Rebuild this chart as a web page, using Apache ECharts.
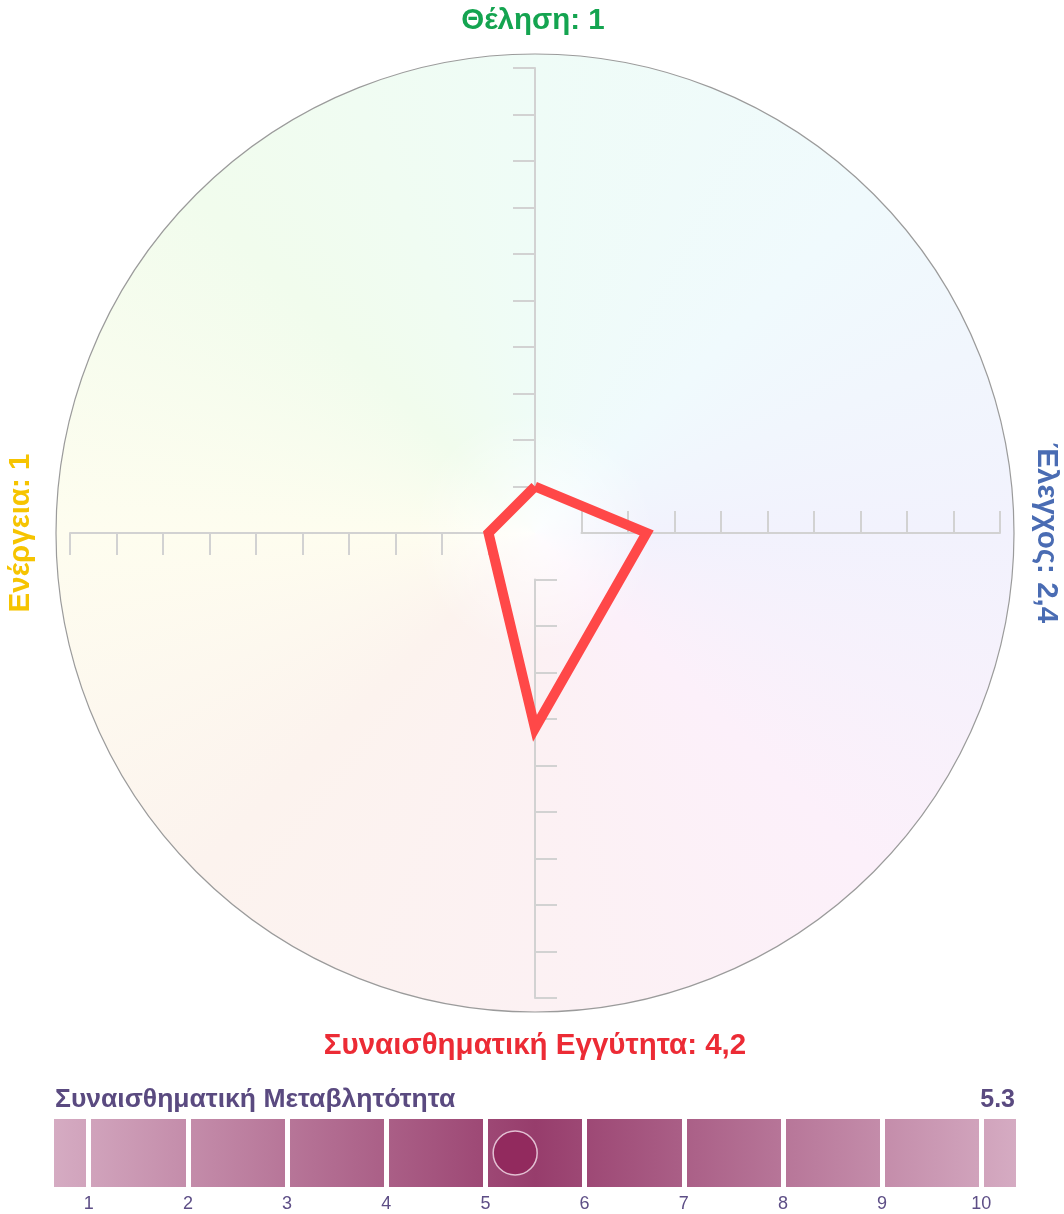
<!DOCTYPE html>
<html>
<head>
<meta charset="utf-8">
<script src="https://cdn.jsdelivr.net/npm/echarts@6/dist/echarts.min.js"></script>
<style>
  html, body { margin: 0; padding: 0; background: #fff; }
  #chart { width: 1064px; height: 1214px; }
</style>
</head>
<body>
<div id="chart"></div>
<script>
// radar axes, counter-clockwise from the top
const axisNames = ['Θέληση', 'Ενέργεια', 'Συναισθηματική Εγγύτητα', 'Έλεγχος']
const axisValues = [1, 1, 4.2, 2.4]
const axisColors = ['#14a450', '#f6c400', '#ec2b35', '#4a6cb3']
const axisMin = 1
const axisMax = 10

// variability bar
const variabilityTitle = 'Συναισθηματική Μεταβλητότητα'
const variabilityValue = 5.3
const variabilityRange = [0.65, 10.35]

const FONT = '"Liberation Sans", Arial, sans-serif'
const cx = 535
const cy = 533
const R = 465
const ringR = 479
const step = R / axisMax

// pastel colour wheel behind the radar
const makeBackground = () => {
  const size = ringR * 2
  const cv = document.createElement('canvas')
  cv.width = size
  cv.height = size
  const ctx = cv.getContext('2d')
  ctx.beginPath()
  ctx.arc(ringR, ringR, ringR, 0, Math.PI * 2)
  ctx.clip()
  if (ctx.createConicGradient) {
    const g = ctx.createConicGradient(-Math.PI / 2, ringR, ringR)
    g.addColorStop(0, '#effcf7')
    g.addColorStop(0.125, '#f0fafd')
    g.addColorStop(0.25, '#f2f2fd')
    g.addColorStop(0.375, '#fcf0fa')
    g.addColorStop(0.5, '#fcf1f3')
    g.addColorStop(0.625, '#fcf3ee')
    g.addColorStop(0.75, '#fefdef')
    g.addColorStop(0.875, '#f1fced')
    g.addColorStop(1, '#effcf7')
    ctx.fillStyle = g
  } else {
    ctx.fillStyle = '#f6f6fb'
  }
  ctx.fillRect(0, 0, size, size)
  const w = ctx.createRadialGradient(ringR, ringR, 0, ringR, ringR, 120)
  w.addColorStop(0, 'rgba(255,255,255,0.85)')
  w.addColorStop(1, 'rgba(255,255,255,0)')
  ctx.fillStyle = w
  ctx.fillRect(0, 0, size, size)
  return cv
}

const fmt = v => String(v).replace('.', ',')
const labelPos = [
  { x: cx - 2, y: 21, rotation: 0 },
  { x: 21, y: cy, rotation: Math.PI / 2 },
  { x: cx, y: 1046, rotation: 0 },
  { x: 1046, y: cy, rotation: -Math.PI / 2 }
]

const axisLabelEls = axisNames.map((name, i) => ({
  type: 'text',
  x: labelPos[i].x,
  y: labelPos[i].y,
  rotation: labelPos[i].rotation,
  style: {
    text: name + ': ' + fmt(axisValues[i]),
    font: 'bold 29.5px ' + FONT,
    fill: axisColors[i],
    align: 'center',
    verticalAlign: 'middle'
  }
}))

const chart = echarts.init(document.getElementById('chart'), null, { renderer: 'canvas' })

const hiddenRadar = {
  axisName: { show: false },
  axisLine: { show: false },
  axisTick: { show: false },
  axisLabel: { show: false },
  splitLine: { show: false },
  splitArea: { show: false }
}

const options = {
  animation: false,
  backgroundColor: '#fff',
  graphic: [
    {
      type: 'image',
      x: cx - ringR,
      y: cy - ringR,
      z: -10,
      style: { image: makeBackground(), width: ringR * 2, height: ringR * 2 }
    },
    {
      type: 'circle',
      z: -9,
      shape: { cx: cx, cy: cy, r: ringR },
      style: { fill: null, stroke: '#9b9b9b', lineWidth: 1.2 }
    },
    ...axisLabelEls,
    {
      type: 'text',
      x: 55,
      y: 1100,
      style: {
        text: variabilityTitle,
        font: 'bold 26.5px ' + FONT,
        fill: '#5a4a80',
        align: 'left',
        verticalAlign: 'middle'
      }
    },
    {
      type: 'text',
      x: 1015,
      y: 1100,
      style: {
        text: String(variabilityValue),
        font: 'bold 25px ' + FONT,
        fill: '#5a4a80',
        align: 'right',
        verticalAlign: 'middle'
      }
    }
  ],
  radar: [
    {
      // axes with ticks from 1 to 10
      z: 2,
      center: [cx, cy],
      radius: [step * axisMin, R],
      startAngle: 90,
      shape: 'circle',
      splitNumber: axisMax - axisMin,
      indicator: axisNames.map(n => ({ name: n, min: axisMin, max: axisMax })),
      axisName: { show: false },
      axisLine: { show: true, lineStyle: { color: '#d2d2d2', width: 2 } },
      axisTick: { show: true, length: 22, lineStyle: { color: '#d2d2d2', width: 2 } },
      axisLabel: { show: false },
      splitLine: { show: false },
      splitArea: { show: false }
    },
    {
      // values, drawn from the centre
      z: 3,
      center: [cx, cy],
      radius: R,
      startAngle: 90,
      shape: 'circle',
      indicator: axisNames.map(n => ({ name: n, min: 0, max: axisMax })),
      ...hiddenRadar
    }
  ],
  grid: { left: 54, right: 48, top: 1119, height: 68 },
  xAxis: {
    type: 'value',
    min: variabilityRange[0],
    max: variabilityRange[1],
    splitNumber: 10,
    z: 5,
    axisLine: { show: false },
    axisTick: { show: false },
    axisLabel: {
      showMinLabel: false,
      showMaxLabel: false,
      margin: 8,
      color: '#5d4e86',
      fontSize: 18,
      fontFamily: FONT
    },
    splitLine: {
      show: true,
      showMinLine: false,
      showMaxLine: false,
      lineStyle: { color: '#fff', width: 5 }
    }
  },
  yAxis: { type: 'value', min: 0, max: 1, show: false },
  series: [
    {
      type: 'radar',
      radarIndex: 1,
      z: 5,
      symbol: 'none',
      lineStyle: { color: '#ff4848', width: 10, join: 'miter', opacity: 1 },
      areaStyle: null,
      data: [{ value: axisValues, name: 'profile' }]
    },
    {
      type: 'custom',
      z: 1,
      data: [variabilityRange],
      renderItem: (params, api) => {
        const p0 = api.coord([api.value(0), 1])
        const p1 = api.coord([api.value(1), 0])
        return {
          type: 'rect',
          shape: { x: p0[0], y: p0[1], width: p1[0] - p0[0], height: p1[1] - p0[1] },
          style: {
            fill: new echarts.graphic.LinearGradient(0, 0, 1, 0, [
              { offset: 0, color: '#d5abc2' },
              { offset: 0.5, color: '#973d6c' },
              { offset: 1, color: '#d5abc2' }
            ])
          }
        }
      }
    },
    {
      type: 'scatter',
      z: 10,
      symbolSize: 44,
      itemStyle: { color: '#922a5e', borderColor: '#e2bfd2', borderWidth: 1.5, opacity: 1 },
      data: [[variabilityValue, 0.5]]
    }
  ]
}

chart.setOption(options, true)
</script>
</body>
</html>
